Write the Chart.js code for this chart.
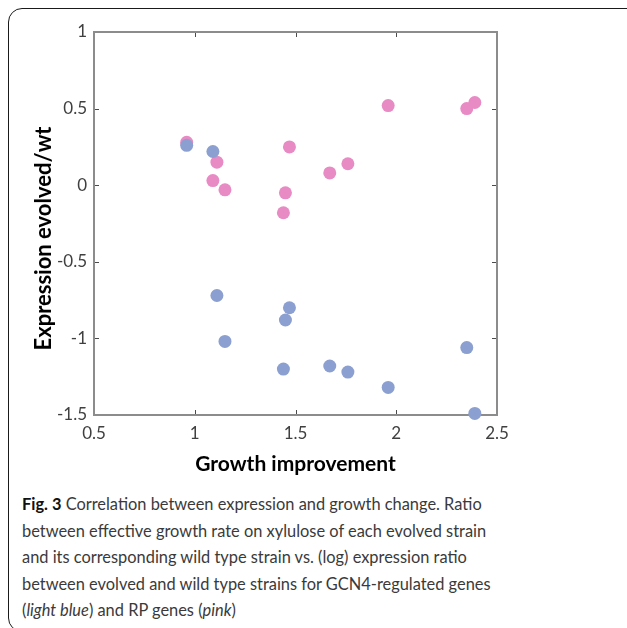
<!DOCTYPE html>
<html>
<head>
<meta charset="utf-8">
<script src="https://cdn.jsdelivr.net/npm/chart.js@4.4.1/dist/chart.umd.min.js"></script>
<style>
    html, body { margin: 0; padding: 0; background: #fff; }
    body { width: 627px; height: 628px; position: relative; overflow: hidden; }
    #frame {
        position: absolute; left: 8px; top: 8px;
        width: 700px; height: 622px;
        border: 1.5px solid #1a1a1a; border-radius: 14px;
    }
    #chart { position: absolute; left: 0; top: 0; }
    #caption {
        position: absolute; left: 22px; top: 491px;
        font-family: Lato, "Open Sans", sans-serif;
        font-size: 16.4px; line-height: 26.6px;
        color: #3a3a3a; white-space: nowrap;
    }
    #caption b { color: #111; }
</style>
</head>
<body>
<div id="frame"></div>
<canvas id="chart" width="627" height="480"></canvas>
<div id="caption"><b>Fig. 3</b> Correlation between expression and growth change. Ratio<br>between effective growth rate on xylulose of each evolved strain<br>and its corresponding wild type strain vs. (log) expression ratio<br>between evolved and wild type strains for GCN4-regulated genes<br>(<i>light blue</i>) and RP genes (<i>pink</i>)</div>

<script>
/* ================= DATA ================= */

const growth = [0.96, 1.09, 1.11, 1.15, 1.44, 1.45, 1.47, 1.67, 1.76, 1.96, 2.35, 2.39];
const gcn4Expr = [0.26, 0.22, -0.72, -1.02, -1.20, -0.88, -0.80, -1.18, -1.22, -1.32, -1.06, -1.49];
const rpExpr = [0.28, 0.03, 0.15, -0.03, -0.18, -0.05, 0.25, 0.08, 0.14, 0.52, 0.50, 0.54];

const xTicks = [0.5, 1, 1.5, 2, 2.5];
const yTicks = [-1.5, -1, -0.5, 0, 0.5, 1];

const xTitle = "Growth improvement";
const yTitle = "Expression evolved/wt";

const BLUE = "#8b9fd0";
const PINK = "#e88ac4";

const toPoints = ys => growth.map((x, i) => ({ x, y: ys[i] }));

const FONT = "Lato, 'Open Sans', sans-serif";

/* ================= BOX + INWARD TICKS ================= */

const boxPlugin = {
    id: "box",
    beforeDatasetsDraw(chart) {
        const { ctx, chartArea: a, scales } = chart;
        const len = 5;
        ctx.save();

        ctx.strokeStyle = "#4a4a4a";
        ctx.lineWidth = 1;
        xTicks.slice(1, -1).forEach(v => {
            const px = Math.round(scales.x.getPixelForValue(v)) + 0.5;
            ctx.beginPath();
            ctx.moveTo(px, a.bottom); ctx.lineTo(px, a.bottom - len);
            ctx.moveTo(px, a.top); ctx.lineTo(px, a.top + len);
            ctx.stroke();
        });
        yTicks.slice(1, -1).forEach(v => {
            const py = Math.round(scales.y.getPixelForValue(v)) + 0.5;
            ctx.beginPath();
            ctx.moveTo(a.left, py); ctx.lineTo(a.left + len, py);
            ctx.moveTo(a.right, py); ctx.lineTo(a.right - len, py);
            ctx.stroke();
        });

        ctx.strokeStyle = "#8c8c8c";
        ctx.lineWidth = 2;
        ctx.strokeRect(a.left, a.top, a.right - a.left, a.bottom - a.top);
        ctx.restore();
    },
    // y title sits a bit below the plot middle, like the figure
    afterDraw(chart) {
        const { ctx, chartArea: a } = chart;
        ctx.save();
        ctx.translate(44, (a.top + a.bottom) / 2 + 15);
        ctx.rotate(-Math.PI / 2);
        ctx.font = `bold 22px ${FONT}`;
        ctx.fillStyle = "#000";
        ctx.textAlign = "center";
        ctx.textBaseline = "middle";
        ctx.fillText(yTitle, 0, 0);
        ctx.restore();
    }
};

/* ================= CHART ================= */

const tickFont = { family: FONT, size: 17 };
const plainLabel = v => String(v);

new Chart(document.getElementById("chart"), {
    type: "scatter",
    data: {
        datasets: [
            {
                label: "GCN4-regulated genes",
                data: toPoints(gcn4Expr),
                backgroundColor: BLUE,
                borderWidth: 0,
                pointRadius: 6.5,
                clip: false
            },
            {
                label: "RP genes",
                data: toPoints(rpExpr),
                backgroundColor: PINK,
                borderWidth: 0,
                pointRadius: 6.5,
                clip: false
            }
        ]
    },
    options: {
        responsive: false,
        animation: false,
        layout: { padding: { left: 0, top: 32, right: 130, bottom: 0 } },
        plugins: {
            legend: { display: false },
            tooltip: { enabled: false }
        },
        scales: {
            x: {
                type: "linear",
                min: 0.5,
                max: 2.5,
                afterBuildTicks: s => { s.ticks = xTicks.map(value => ({ value })); },
                afterFit: s => { s.height = 65; },
                grid: { display: false, drawTicks: false },
                border: { display: false },
                ticks: { color: "#404040", font: tickFont, padding: 8, maxRotation: 0, callback: plainLabel },
                title: {
                    display: true,
                    text: xTitle,
                    color: "#000",
                    font: { family: FONT, size: 21, weight: "bold" },
                    padding: { top: 0, bottom: 3 }
                }
            },
            y: {
                type: "linear",
                min: -1.5,
                max: 1,
                afterBuildTicks: s => { s.ticks = yTicks.map(value => ({ value })); },
                afterFit: s => { s.width = 94; },
                grid: { display: false, drawTicks: false },
                border: { display: false },
                ticks: { color: "#404040", font: tickFont, padding: 7, callback: plainLabel }
            }
        }
    },
    plugins: [boxPlugin]
});
</script>
</body>
</html>
